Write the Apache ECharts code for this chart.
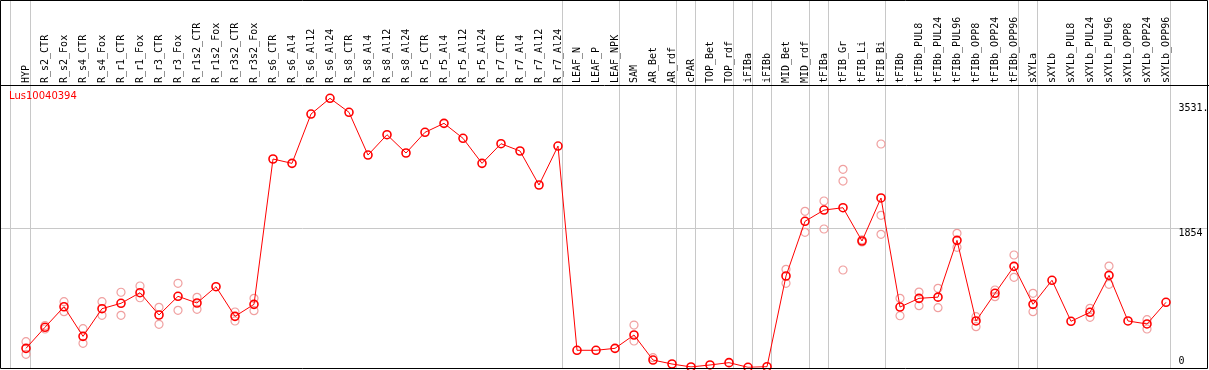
<!DOCTYPE html>
<html>
<head>
<meta charset="utf-8">
<script src="https://cdn.jsdelivr.net/npm/echarts@6/dist/echarts.min.js"></script>
<style>
  html, body { margin: 0; padding: 0; background: #fff; }
  #main { width: 1209px; height: 370px; }
</style>
</head>
<body>
<div id="main"></div>
<script>
const geneName = "Lus10040394";

const categories = [
  "HYP", "R_s2_CTR", "R_s2_Fox", "R_s4_CTR", "R_s4_Fox", "R_r1_CTR", "R_r1_Fox",
  "R_r3_CTR", "R_r3_Fox", "R_r1s2_CTR", "R_r1s2_Fox", "R_r3s2_CTR", "R_r3s2_Fox",
  "R_s6_CTR", "R_s6_Al4", "R_s6_Al12", "R_s6_Al24", "R_s8_CTR", "R_s8_Al4", "R_s8_Al12",
  "R_s8_Al24", "R_r5_CTR", "R_r5_Al4", "R_r5_Al12", "R_r5_Al24", "R_r7_CTR", "R_r7_Al4",
  "R_r7_Al12", "R_r7_Al24", "LEAF_N", "LEAF_P", "LEAF_NPK", "SAM", "AR_Bet", "AR_rdf",
  "cPAR", "TOP_Bet", "TOP_rdf", "iFIBa", "iFIBb", "MID_Bet", "MID_rdf", "tFIBa",
  "tFIB_Gr", "tFIB_Li", "tFIB_Bi", "tFIBb", "tFIBb_PUL8", "tFIBb_PUL24", "tFIBb_PUL96",
  "tFIBb_OPP8", "tFIBb_OPP24", "tFIBb_OPP96", "sXYLa", "sXYLb", "sXYLb_PUL8",
  "sXYLb_PUL24", "sXYLb_PUL96", "sXYLb_OPP8", "sXYLb_OPP24", "sXYLb_OPP96"
];

// mean expression per sample
const means = [
  253, 534, 808, 413, 782, 854, 995, 698, 947, 858, 1075, 680, 840,
  2779, 2721, 3379, 3589, 3402, 2832, 3103, 2859, 3135, 3255, 3055, 2721, 2983, 2886, 2432, 2952,
  227, 227, 253, 431, 97, 44, 5, 31, 62, 0, 8,
  1218, 1948, 2098, 2129, 1685, 2259, 804, 920, 936, 1694, 618, 987, 1347, 840, 1161,
  614, 734, 1227, 618, 578, 867
];

// individual replicates (faint circles)
const replicates = [
  [342, 173], [558, 511], [875, 742], [515, 320], [875, 694], [1001, 694], [1085, 928],
  [800, 574], [1121, 760], [934, 774], [], [738, 618], [920, 755],
  [], [], [], [], [], [], [], [], [], [], [], [], [], [], [], [],
  [], [], [], [564, 351], [128], [], [], [], [], [], [],
  [1307, 1121], [2081, 1801], [2219, 1845], [2641, 2485, 1298], [1700, 1672],
  [2979, 2028, 1774], [920, 688], [1004, 822], [1054, 795], [1788, 1601], [675, 542],
  [1031, 942], [1498, 1201], [987, 742], [], [], [787, 667], [1351, 1107], [], [635, 511], []
];

const yTicks = [0, 1854, 3531];
const yTickLabels = ["0", "1854", "3531."];
const yMax = 3753;

// separators drawn just after these sample indices
const groupEnds = [-1, 0, 28, 31, 34, 35, 37, 38, 39, 41, 42, 45, 52, 53, 60];

const meanData = means.map((v, i) => [i, v]);
const repData = [];
replicates.forEach((list, i) => list.forEach(v => repData.push([i, v])));

const chart = echarts.init(document.getElementById("main"), null, { renderer: "canvas" });

chart.setOption({
  animation: false,
  backgroundColor: "#ffffff",
  title: {
    text: geneName,
    left: 9,
    top: 91,
    padding: 0,
    textStyle: { color: "#ff0000", fontSize: 10, fontWeight: "normal", fontFamily: "DejaVu Sans" }
  },
  grid: { left: 7, right: 33.5, top: 86, bottom: 2.7, containLabel: false, outerBoundsMode: "none" },
  xAxis: {
    type: "value",
    position: "top",
    min: -1,
    max: 60.5,
    interval: 1,
    axisLine: { show: false },
    axisTick: { show: false },
    splitLine: { show: false },
    axisLabel: {
      rotate: 90,
      margin: 3,
      color: "#000",
      fontSize: 10,
      fontFamily: "DejaVu Sans Mono",
      formatter: v => categories[v] || ""
    }
  },
  yAxis: {
    type: "value",
    position: "right",
    min: 0,
    max: yMax,
    axisLine: { show: false },
    axisTick: { show: false },
    splitLine: { show: false },
    axisLabel: {
      customValues: yTicks,
      margin: 3,
      verticalAlign: "middle",
      color: "#000",
      fontSize: 10,
      fontFamily: "DejaVu Sans Mono",
      formatter: v => {
        const k = yTicks.indexOf(v);
        const txt = k >= 0 ? yTickLabels[k] : "";
        return v === 0 ? "{b|" + txt + "}" : "{t|" + txt + "}";
      },
      rich: {
        t: { padding: [11, 0, 0, 0], fontSize: 10, lineHeight: 10, fontFamily: "DejaVu Sans Mono", color: "#000" },
        b: { padding: [0, 0, 11, 0], fontSize: 10, lineHeight: 10, fontFamily: "DejaVu Sans Mono", color: "#000" }
      }
    }
  },
  series: [
    {
      name: "replicates",
      type: "scatter",
      data: repData,
      symbol: "circle",
      symbolSize: 8,
      z: 2,
      itemStyle: { color: "rgba(0,0,0,0)", borderColor: "#f0a0a0", borderWidth: 1.2, opacity: 1 }
    },
    {
      name: "mean",
      type: "line",
      data: meanData,
      symbol: "circle",
      symbolSize: 8,
      showAllSymbol: true,
      z: 3,
      lineStyle: { color: "#ff0000", width: 1 },
      itemStyle: { color: "rgba(0,0,0,0)", borderColor: "#ff0000", borderWidth: 1.6 }
    }
  ]
});

// grid lines and frame placed through the axes' own scales
const crisp = p => Math.floor(p) + 0.5;
const graphics = [];
groupEnds.forEach(i => {
  const x = crisp(chart.convertToPixel({ xAxisIndex: 0 }, i + (i < 0 ? 0.16 : 0.24)));
  graphics.push({
    type: "line", z: -1, silent: true,
    shape: { x1: x, y1: 0, x2: x, y2: 369 },
    style: { stroke: "#c8c8c8", lineWidth: 1 }
  });
});
const yMid = crisp(chart.convertToPixel({ yAxisIndex: 0 }, 1854));
graphics.push({
  type: "line", z: -1, silent: true,
  shape: { x1: 1, y1: yMid, x2: 1207, y2: yMid },
  style: { stroke: "#c8c8c8", lineWidth: 1 }
});
const yTop = crisp(chart.convertToPixel({ yAxisIndex: 0 }, yMax)) - 1;
graphics.push({
  type: "line", z: 10, silent: true,
  shape: { x1: 0, y1: yTop, x2: 1209, y2: yTop },
  style: { stroke: "#000", lineWidth: 1 }
});
graphics.push({
  type: "rect", z: 10, silent: true,
  shape: { x: 0.5, y: 0.5, width: 1207, height: 368 },
  style: { fill: "none", stroke: "#000", lineWidth: 1 }
});
chart.setOption({ graphic: graphics });
</script>
</body>
</html>
